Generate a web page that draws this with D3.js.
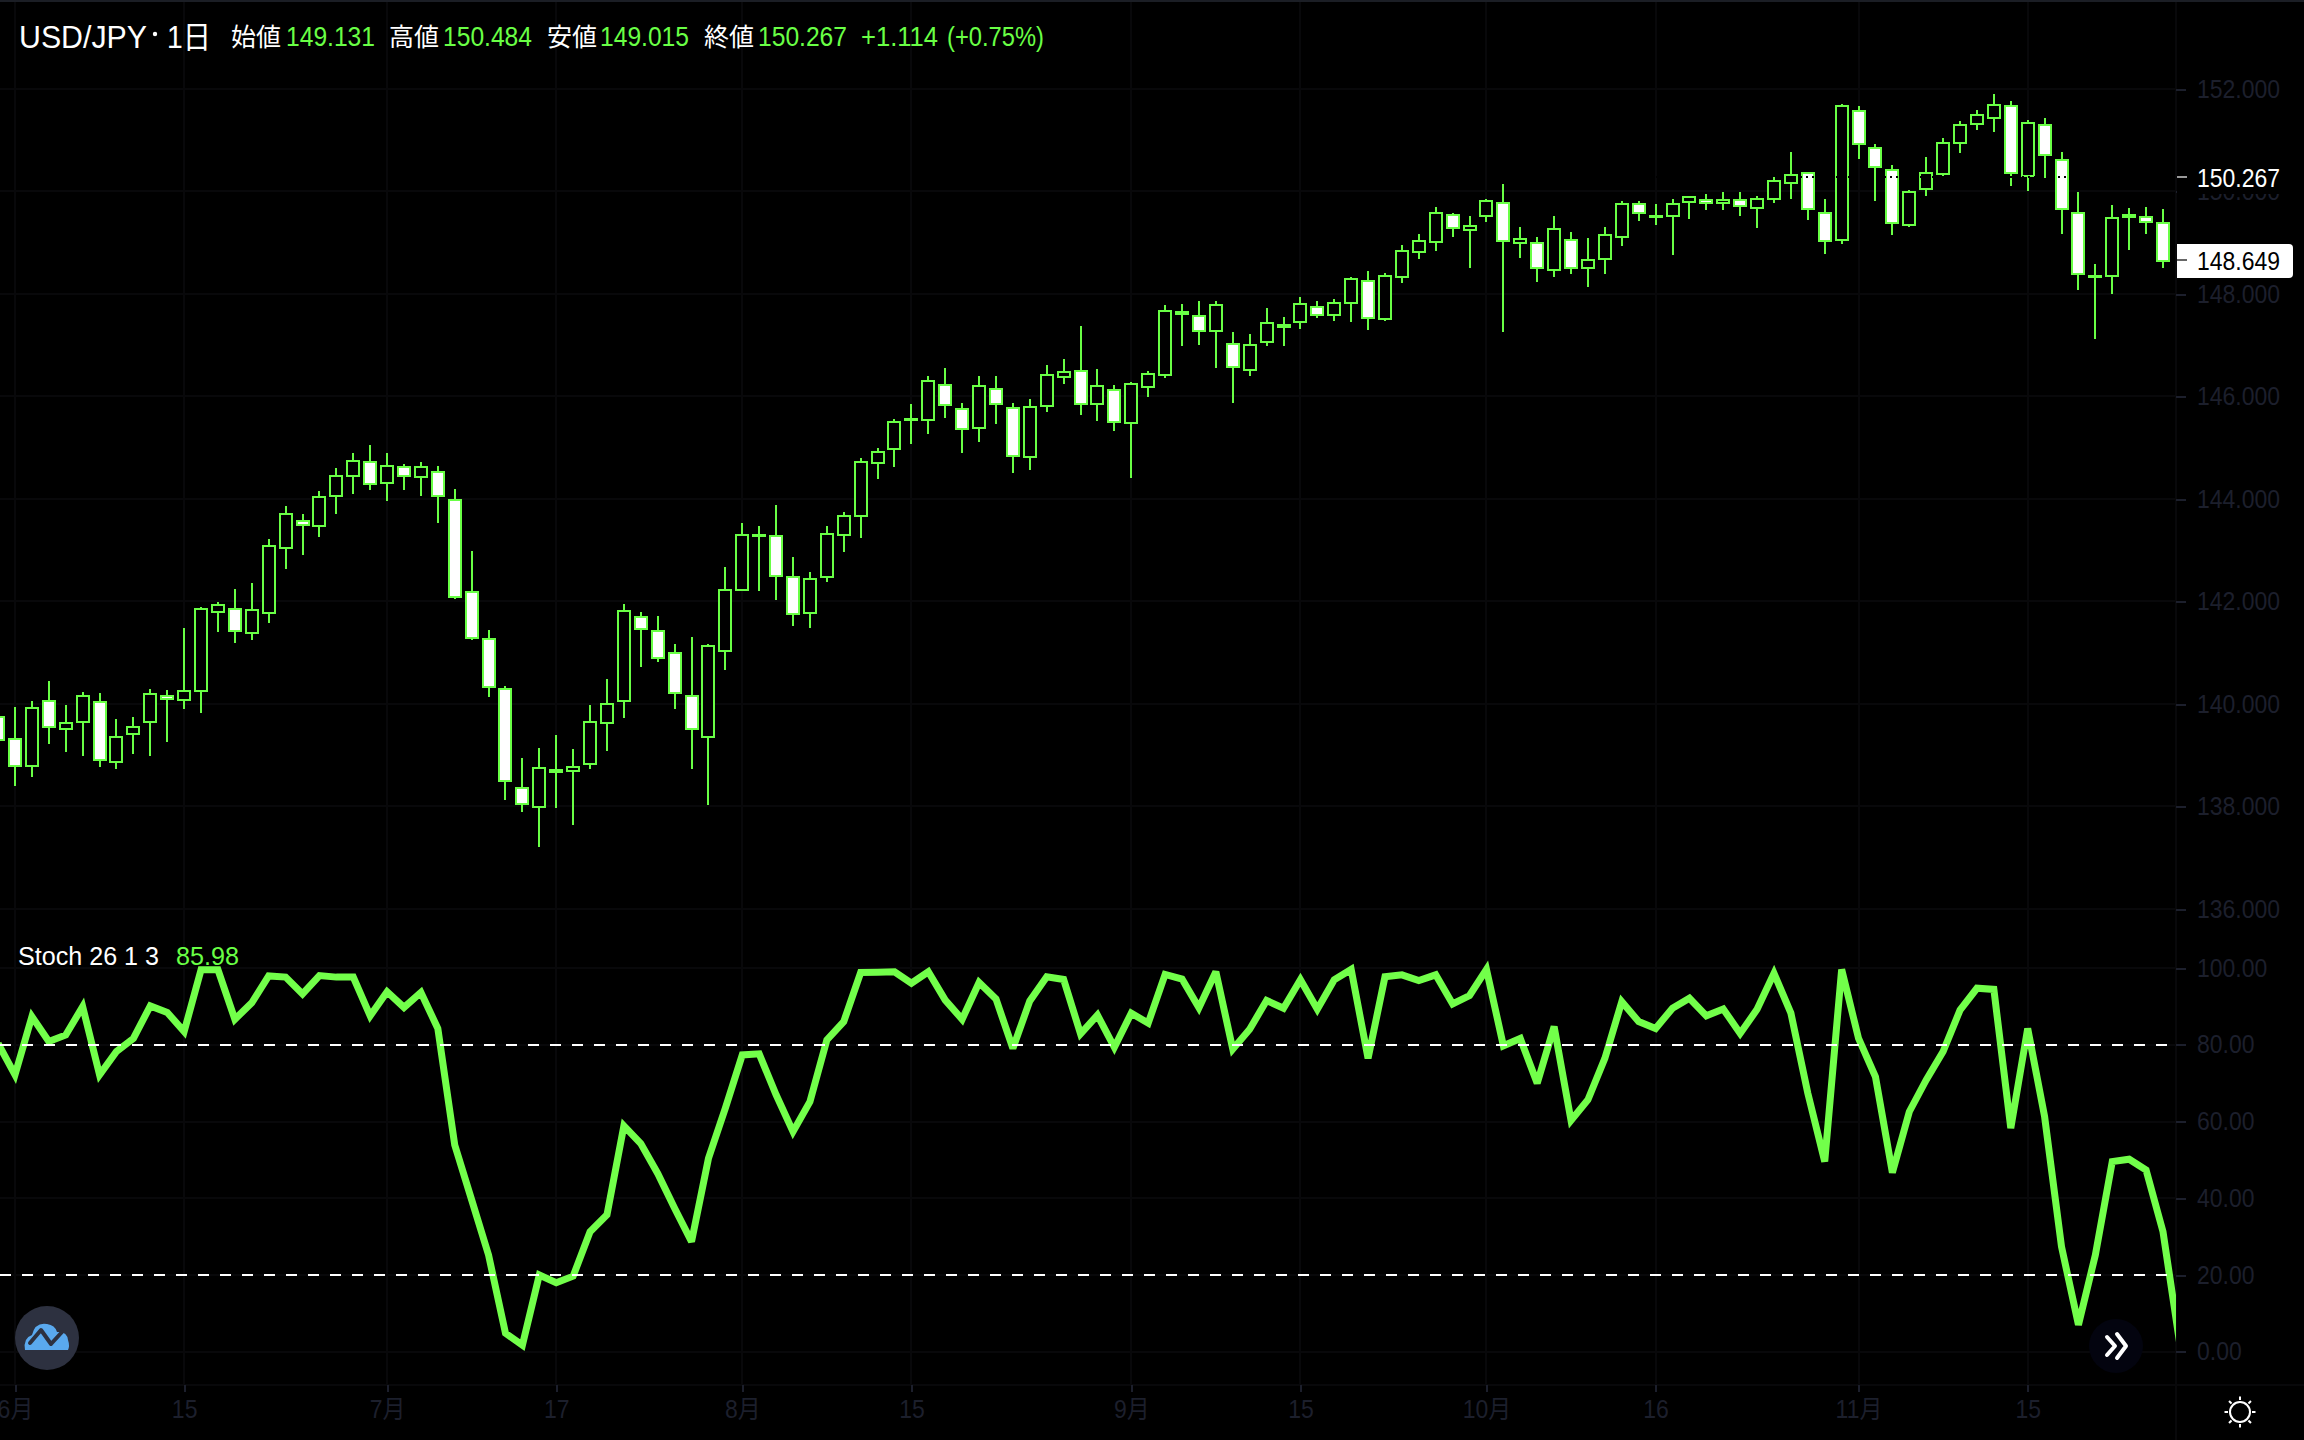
<!DOCTYPE html>
<html><head><meta charset="utf-8">
<script src="https://cdn.jsdelivr.net/npm/d3@7/dist/d3.min.js"></script>
<style>
html,body{margin:0;padding:0;background:#000;overflow:hidden}
svg{display:block}
text{font-family:"Liberation Sans","Noto Sans CJK JP",sans-serif}
.axis .domain{display:none}
</style></head><body>
<script>
const opens=[139.74,139.30,138.79,140.04,139.51,139.63,140.02,138.85,139.41,139.63,140.14,140.06,140.25,141.79,141.84,141.38,141.77,143.04,143.57,143.47,144.04,144.43,144.71,144.31,144.61,144.41,144.51,143.98,142.17,141.25,140.28,138.36,137.99,138.67,138.69,138.81,139.61,140.04,141.68,141.41,140.98,140.14,139.35,141.03,142.21,143.27,143.26,142.46,141.77,142.46,143.28,143.65,144.70,144.97,145.53,145.54,146.21,145.74,145.38,146.13,145.76,144.80,145.81,146.38,146.48,145.85,146.11,145.48,146.18,146.40,147.60,147.57,147.26,147.01,146.51,147.06,147.35,147.44,147.73,147.59,147.82,148.24,147.51,148.33,148.80,149.01,149.53,149.23,149.52,149.76,148.99,148.98,148.45,149.04,148.50,148.68,149.11,149.74,149.49,149.52,149.79,149.82,149.77,149.82,149.66,149.85,150.15,150.36,149.58,149.05,151.57,150.83,150.40,149.34,150.03,150.34,150.93,151.31,151.43,151.65,150.30,151.28,150.60,149.58,148.33,148.35,149.50,149.49,149.37];
const closes=[139.29,138.79,139.92,139.55,139.61,140.14,138.90,139.34,139.55,140.18,140.09,140.24,141.84,141.92,141.42,141.82,143.07,143.69,143.49,144.02,144.43,144.73,144.29,144.63,144.43,144.61,144.04,142.08,141.28,140.33,138.49,138.03,138.75,138.70,138.77,139.63,140.00,141.80,141.46,140.89,140.21,139.51,141.12,142.21,143.28,143.29,142.49,141.75,142.42,143.30,143.65,144.71,144.90,145.49,145.55,146.29,145.83,145.36,146.19,145.85,144.82,145.78,146.40,146.46,145.85,146.19,145.50,146.23,146.42,147.65,147.63,147.26,147.77,146.57,146.99,147.42,147.38,147.79,147.59,147.81,148.28,147.53,148.34,148.82,149.02,149.58,149.27,149.31,149.80,149.03,149.06,148.49,149.25,148.49,148.65,149.14,149.74,149.58,149.51,149.74,149.88,149.77,149.82,149.70,149.84,150.20,150.32,149.64,149.03,151.65,150.91,150.46,149.38,149.99,150.36,150.93,151.28,151.48,151.67,150.36,151.32,150.71,149.64,148.39,148.35,149.47,149.53,149.40,148.64];
const highs=[139.90,139.93,140.05,140.44,139.97,140.22,140.20,139.70,139.74,140.28,140.26,141.47,141.88,141.98,142.23,142.35,143.21,143.85,143.70,144.15,144.60,144.89,145.04,144.89,144.67,144.71,144.63,144.19,142.98,141.43,140.34,138.94,139.13,139.39,139.11,139.97,140.48,141.94,141.79,141.71,141.16,141.30,141.16,142.66,143.52,143.46,143.87,142.86,142.57,143.46,143.74,144.79,144.99,145.55,145.84,146.39,146.55,145.86,146.39,146.39,145.86,145.94,146.61,146.72,147.37,146.53,146.22,146.27,146.49,147.78,147.80,147.85,147.85,147.25,147.21,147.72,147.54,147.93,147.85,147.89,148.32,148.44,148.40,148.95,149.16,149.69,149.57,149.51,149.84,150.14,149.30,149.10,149.51,149.20,149.08,149.30,149.81,149.81,149.75,149.84,149.90,149.94,149.98,149.98,149.90,150.27,150.76,150.38,149.84,151.70,151.66,150.92,150.51,150.01,150.66,151.03,151.37,151.58,151.89,151.76,151.39,151.43,150.76,149.98,148.58,149.73,149.67,149.69,149.65];
const lows=[139.10,138.39,138.57,139.21,139.05,138.98,138.76,138.72,139.01,138.98,139.25,139.89,139.81,141.40,141.18,141.24,141.57,142.62,142.90,143.25,143.70,144.09,144.17,143.95,144.17,144.05,143.52,142.04,141.24,140.13,138.12,137.88,137.20,137.96,137.63,138.72,139.07,139.72,140.71,140.81,139.89,138.72,138.02,140.65,142.19,142.20,142.02,141.51,141.47,142.37,142.96,143.23,144.38,144.62,145.06,145.26,145.57,144.89,145.10,145.45,144.50,144.56,145.69,146.23,145.63,145.51,145.32,144.40,145.98,146.35,146.98,147.00,146.55,145.86,146.39,146.98,146.98,147.31,147.52,147.46,147.44,147.29,147.46,148.21,148.67,148.83,149.10,148.50,149.40,147.25,148.69,148.23,148.32,148.38,148.13,148.38,148.93,149.42,149.34,148.75,149.45,149.63,149.63,149.51,149.28,149.77,149.84,149.43,148.77,148.97,150.63,149.81,149.14,149.30,149.90,150.29,150.74,151.19,151.15,150.10,150.00,150.25,149.16,148.07,147.11,147.99,148.85,149.16,148.50];
const stoch=[80.4,72.2,87.4,80.9,82.6,90.0,72.2,78.3,81.7,90.2,88.5,83.5,99.6,99.6,86.7,91.0,98.0,97.7,93.3,98.1,97.7,97.7,87.6,93.9,89.8,93.7,84.3,53.9,39.6,25.2,4.8,1.7,20.0,18.0,19.7,31.3,35.7,58.9,54.3,46.5,37.4,28.7,50.4,63.5,77.4,77.7,67.0,57.4,65.2,81.3,86.1,98.9,99.0,99.1,96.1,99.1,91.7,86.7,96.3,92.0,79.1,91.5,97.8,97.1,82.9,87.8,79.4,88.3,85.7,98.4,97.2,89.7,99.1,78.9,84.1,91.6,89.6,97.0,89.3,97.0,99.7,76.5,97.8,98.3,96.8,98.3,90.7,92.9,99.7,79.8,81.7,70.0,84.8,60.3,65.7,76.5,91.3,86.1,84.3,89.6,92.2,87.6,89.4,83.0,89.3,98.7,88.3,67.4,49.6,99.7,81.7,71.7,46.7,62.6,70.9,78.3,89.1,94.8,94.5,58.3,84.3,61.3,27.4,7.0,25.2,49.6,50.2,47.4,31.3,1.8];
const priceTicks=[152,150,148,146,144,142,140,138,136];
const stochTicks=[100,80,60,40,20,0];
const stochLevels=[80,20];
const dateTickIndex=[1,11,23,33,44,54,67,77,88,98,110,120];
const dateTickLabels=["6月","15","7月","17","8月","15","9月","15","10月","16","11月","15"];
const lastClose=148.649, prevMark=150.267;
const ohlcNames=["始値","高値","安値","終値"];
const ohlcVals=["149.131","150.484","149.015","150.267"];

const W=2304,H=1440,paneR=2176;
const GREEN="#69ff45",LINE="#72ff4a",DIM="#1c1f2c",GRID="#08080a";
const svg=d3.select("body").append("svg").attr("width",W).attr("height",H).style("background","#000");
const x=d3.scaleLinear().domain([1,128]).range([15,2163]);
const y=d3.scaleLinear().domain([136,152]).rangeRound([908.5,88.5]);
const ys=d3.scaleLinear().domain([0,100]).range([1351.7,968.3]);
const X=i=>Math.round(x(i)), Y=y;

svg.append("rect").attr("width",W).attr("height",2).attr("fill","#1b1e25");
const defs=svg.append("defs");
defs.append("clipPath").attr("id","pane").append("rect").attr("width",paneR).attr("height",H);

// grid
const grid=svg.append("g").attr("stroke",GRID).attr("stroke-width",2).attr("shape-rendering","crispEdges");
grid.selectAll(".v").data(dateTickIndex).join("line").attr("x1",X).attr("x2",X).attr("y1",2).attr("y2",1385);
grid.selectAll(".p").data(priceTicks).join("line").attr("x1",0).attr("x2",paneR).attr("y1",d=>Y(d)).attr("y2",d=>Y(d));
grid.selectAll(".s").data(stochTicks).join("line").attr("x1",0).attr("x2",paneR).attr("y1",d=>Math.round(ys(d))).attr("y2",d=>Math.round(ys(d)));
grid.append("line").attr("x1",paneR).attr("x2",paneR).attr("y1",2).attr("y2",H);
grid.append("line").attr("x1",0).attr("x2",W).attr("y1",1385).attr("y2",1385);

// candles
const idx=d3.range(opens.length);
const cg=svg.append("g").attr("clip-path","url(#pane)").attr("shape-rendering","crispEdges");
cg.selectAll(".w").data(idx).join("rect").attr("fill",GREEN)
  .attr("x",i=>X(i)-1).attr("width",2).attr("y",i=>Y(highs[i])).attr("height",i=>Y(lows[i])-Y(highs[i]));
cg.selectAll(".b").data(idx).join("rect")
  .attr("fill",i=>closes[i]>=opens[i]?"#000":"#fff").attr("stroke",GREEN).attr("stroke-width",2)
  .attr("x",i=>X(i)-6).attr("width",12)
  .attr("y",i=>Y(Math.max(opens[i],closes[i])))
  .attr("height",i=>Y(Math.min(opens[i],closes[i]))-Y(Math.max(opens[i],closes[i])));
svg.append("line").attr("x1",0).attr("x2",paneR).attr("y1",Y(prevMark)).attr("y2",Y(prevMark))
  .attr("stroke","#000").attr("stroke-width",2).attr("stroke-dasharray","2 4").attr("shape-rendering","crispEdges");

// stochastic
const line=d3.line().x((d,i)=>x(i)).y(d=>ys(d));
svg.append("path").datum(stoch).attr("d",line).attr("fill","none").attr("stroke",LINE)
  .attr("stroke-width",7).attr("stroke-linejoin","miter").attr("stroke-miterlimit",3).attr("clip-path","url(#pane)");
svg.selectAll(".lvl").data(stochLevels).join("line").attr("x1",0).attr("x2",paneR-6)
  .attr("y1",d=>Math.round(ys(d))).attr("y2",d=>Math.round(ys(d)))
  .attr("stroke","#fff").attr("stroke-width",2).attr("stroke-dasharray","11 11").attr("shape-rendering","crispEdges");

// axes
function narrow(sel,f){sel.each(function(){const n=this.getComputedTextLength();d3.select(this).attr("textLength",n*f).attr("lengthAdjust","spacingAndGlyphs");});}
function style(g,size){g.attr("class","axis");g.selectAll("text").attr("fill",DIM).attr("font-size",size).attr("font-family",null).call(narrow,0.92);g.selectAll("line").attr("stroke",DIM).attr("stroke-width",2).attr("shape-rendering","crispEdges");g.select(".domain").remove();}
svg.append("g").attr("transform",`translate(${paneR},0)`)
  .call(d3.axisRight(y).tickValues(priceTicks).tickFormat(d3.format(".3f")).tickSize(10).tickPadding(11)).call(g=>style(g,25));
svg.append("g").attr("transform",`translate(${paneR},0)`)
  .call(d3.axisRight(ys).tickValues(stochTicks).tickFormat(d3.format(".2f")).tickSize(10).tickPadding(11)).call(g=>style(g,25));
svg.append("g").attr("transform","translate(0,1385)")
  .call(d3.axisBottom(x).tickValues(dateTickIndex).tickFormat((d,i)=>dateTickLabels[i]).tickSize(7).tickPadding(8)).call(g=>style(g,25));

// price labels
svg.append("rect").attr("x",paneR+1).attr("y",Y(prevMark)-16).attr("width",W-paneR-1).attr("height",33).attr("fill","#000");
svg.append("rect").attr("x",paneR+1).attr("y",Y(prevMark)-1).attr("width",10).attr("height",2).attr("fill","#999");
svg.append("text").attr("x",2197).attr("y",Y(prevMark)+1).attr("dy","0.35em").attr("font-size",25).attr("fill","#fff").attr("textLength",83).attr("lengthAdjust","spacingAndGlyphs").text(d3.format(".3f")(prevMark));
const tagPath=d3.path(),tt=Y(lastClose)-16,tb=Y(lastClose)+18,tl=paneR+1,tr=2293,tq=4;
tagPath.moveTo(tl,tt);tagPath.lineTo(tr-tq,tt);tagPath.arcTo(tr,tt,tr,tt+tq,tq);tagPath.lineTo(tr,tb-tq);tagPath.arcTo(tr,tb,tr-tq,tb,tq);tagPath.lineTo(tl,tb);tagPath.closePath();
svg.append("path").attr("fill","#fff").attr("d",tagPath.toString());
svg.append("rect").attr("x",paneR+1).attr("y",Y(lastClose)-1).attr("width",10).attr("height",2).attr("fill","#666");
svg.append("text").attr("x",2197).attr("y",Y(lastClose)+1).attr("dy","0.35em").attr("font-size",25).attr("fill","#000").attr("textLength",83).attr("lengthAdjust","spacingAndGlyphs").text(d3.format(".3f")(lastClose));

// header
const hy=37;
function T(xp,yp,s,size,fill,len){const t=svg.append("text").attr("x",xp).attr("y",yp).attr("dy","0.35em").attr("font-size",size).attr("fill",fill).text(s);if(len)t.attr("textLength",len).attr("lengthAdjust","spacingAndGlyphs");}
T(19,hy,"USD/JPY",31,"#fff",128);
svg.append("circle").attr("cx",155).attr("cy",hy-3).attr("r",2.2).attr("fill","#fff");
T(167,hy,"1日",31,"#fff",44);
const nameX=[231,389,547,704],valX=[286,443,600,758];
ohlcNames.forEach((n,i)=>{T(nameX[i],hy,n,25,"#fff");T(valX[i],hy,ohlcVals[i],27,GREEN,89);});
T(861,hy,"+1.114",27,GREEN,77);
T(947,hy,"(+0.75%)",27,GREEN,97);
T(18,956,"Stoch 26 1 3",26,"#fff",141);
T(176,956,"85.98",26,GREEN,63);

// logo
const logo=svg.append("g").attr("transform","translate(47,1338)");
logo.append("circle").attr("r",32).attr("fill","#2d3140");
logo.append("path").attr("fill","#5aa9ee").attr("d","M-22 12 Q-24 0 -15 -3 Q-12 -16 0 -14 Q8 -13 10 -6 Q20 -7 21 2 Q23 8 21 12 Z");
logo.append("path").attr("fill","none").attr("stroke","#2d3140").attr("stroke-width",4).attr("stroke-linejoin","round").attr("stroke-linecap","round")
  .attr("d","M-17 5 L-6 -8 L4 6 L15 -6");

// scroll button
const btn=svg.append("g").attr("transform","translate(2116,1346)");
btn.append("circle").attr("r",27).attr("fill","#03040f");
btn.append("path").attr("fill","none").attr("stroke","#fff").attr("stroke-width",4).attr("stroke-linecap","round").attr("stroke-linejoin","round")
  .attr("d","M-9 -9 L-1 0 L-9 9 M1 -12 L10 0 L1 12");

// sun icon
const sun=svg.append("g").attr("transform","translate(2240,1412)").attr("stroke","#fff").attr("fill","none").attr("stroke-width",2);
sun.append("circle").attr("r",10);
d3.range(8).forEach(k=>{const a=k*Math.PI/4;sun.append("line").attr("x1",12*Math.cos(a)).attr("y1",12*Math.sin(a)).attr("x2",15.5*Math.cos(a)).attr("y2",15.5*Math.sin(a));});
</script>
</body></html>
